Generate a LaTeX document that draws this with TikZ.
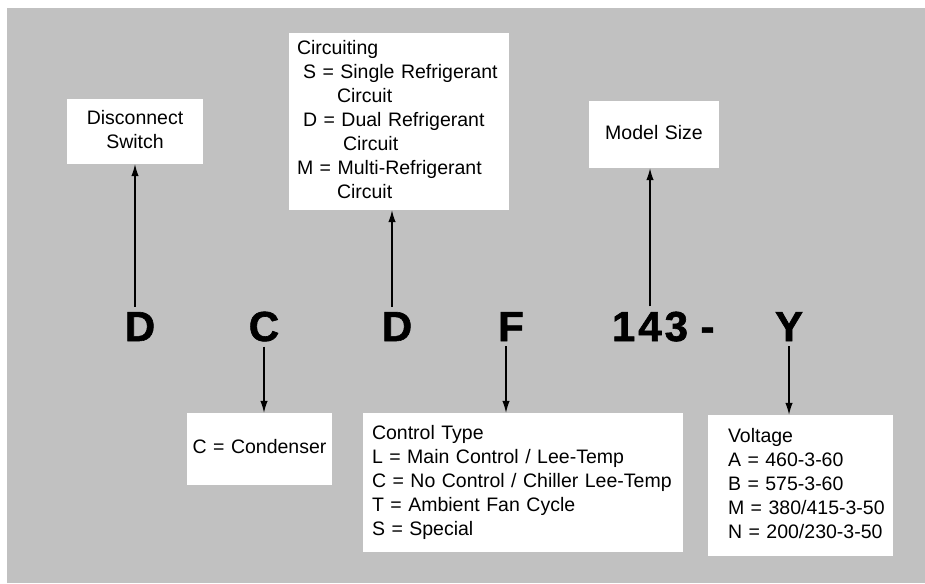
\documentclass[tikz,border=0pt]{standalone}
\usepackage{fontspec}
\setmainfont{Liberation Sans}
\newfontfamily\heavyfont[FakeBold=1.5]{Liberation Sans Bold}
\usetikzlibrary{arrows.meta}
\definecolor{bggray}{RGB}{193,193,193}
\tikzset{
  box/.style={fill=white, inner sep=0pt, font=\fontsize{19.5}{24}\selectfont,
    execute at begin node=\strut, execute at end node=\strut},
  letter/.style={font=\fontsize{42}{42}\heavyfont, inner xsep=0pt, inner ysep=5pt, anchor=base},
  conn/.style={line width=1.3pt, -{Latex[length=12pt,width=7.5pt]}}
}
\begin{document}
\begin{tikzpicture}[x=1pt,y=-1pt]
\useasboundingbox (0,0) rectangle (925,583);
\fill[white] (0,0) rectangle (925,583);
\fill[bggray] (7,8) rectangle (925,583);
% boxes
\node[box, text width=136pt, minimum height=65pt, align=center] (dbox) at (135,131.5) {Disconnect\\Switch};
\node[box, text width=220pt, minimum height=177pt, align=left] (cbox) at (399,121.5)
  {\hspace*{8pt}Circuiting\\
   \hspace*{14pt}S = Single Refrigerant\\
   \hspace*{48pt}Circuit\\
   \hspace*{14pt}D = Dual Refrigerant\\
   \hspace*{54pt}Circuit\\
   \hspace*{8pt}M = Multi-Refrigerant\\
   \hspace*{48pt}Circuit};
\node[box, text width=130pt, minimum height=67pt, align=center] (mbox) at (654,134.5) {Model Size};
\node[box, text width=145pt, minimum height=72pt, align=center] (condbox) at (259.5,449) {C = Condenser};
\node[box, text width=320pt, minimum height=139pt, align=left] (ctrl) at (523,482.5)
  {\hspace*{9pt}Control Type\\
   \hspace*{9pt}L = Main Control / Lee-Temp\\
   \hspace*{9pt}C = No Control / Chiller Lee-Temp\\
   \hspace*{9pt}T = Ambient Fan Cycle\\
   \hspace*{9pt}S = Special};
\node[box, text width=185pt, minimum height=141pt, align=left] (vbox) at (800.5,485.5)
  {\hspace*{20pt}Voltage\\
   \hspace*{20pt}A = 460-3-60\\
   \hspace*{20pt}B = 575-3-60\\
   \hspace*{20pt}M = 380/415-3-50\\
   \hspace*{20pt}N = 200/230-3-50};
% model letters
\node[letter] (D1) at (140,341) {D};
\node[letter] (C) at (264,341) {C};
\node[letter] (D2) at (397,341) {D};
\node[letter] (F) at (511,341) {F};
\node[letter] (N) at (650,341) {1\kern3pt4\kern3pt3};
\node[letter] (dash) at (707.5,341) {-};
\node[letter] (Y) at (789,341) {Y};
\coordinate (d2a) at ([xshift=-5pt]D2.north);
\coordinate (fa) at ([xshift=-5pt]F.south);
% connectors
\draw[conn] (D1.north -| dbox.south) -- (dbox.south);
\draw[conn] (d2a) -- (d2a |- cbox.south);
\draw[conn] (N.north) -- (N.north |- mbox.south);
\draw[conn] (C.south) -- (C.south |- condbox.north);
\draw[conn] (fa) -- (fa |- ctrl.north);
\draw[conn] (Y.south) -- (Y.south |- vbox.north);
\end{tikzpicture}
\end{document}
